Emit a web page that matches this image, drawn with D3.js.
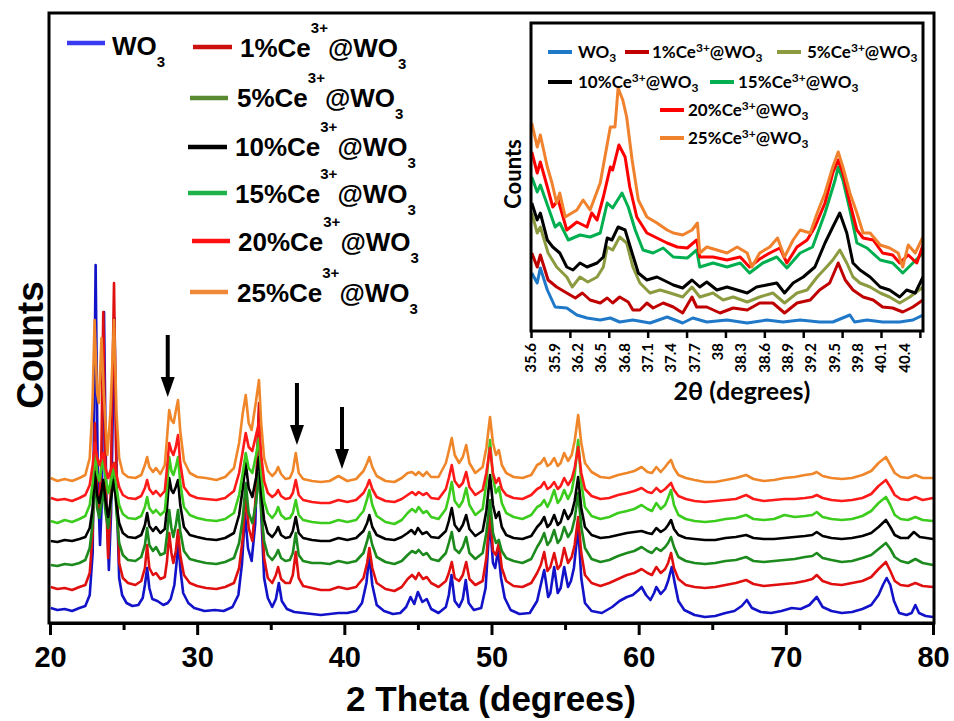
<!DOCTYPE html>
<html><head><meta charset="utf-8">
<script src="https://cdn.jsdelivr.net/npm/d3@7"></script>
<style>body{margin:0;background:#fff}svg{display:block}</style>
</head><body>
<svg id="c" width="954" height="721"></svg>
<script>
// ---------------- DATA ----------------
const seriesNames = ["WO3","1%Ce3+@WO3","5%Ce3+@WO3","10%Ce3+@WO3","15%Ce3+@WO3","20%Ce3+@WO3","25%Ce3+@WO3"];
const legendPct = ["", "1%", "5%", "10%", "15%", "20%", "25%"];
const mainColors = ["#1212c8","#e01010","#1c8a1c","#000000","#3ccc1e","#ff1a1a","#f0862a"];
const legendColors = ["#3a3af0","#cc1010","#5a8a30","#000000","#1db34a","#ff1010","#f0883a"];
const insetColors = ["#1f78c8","#c00000","#8c9a40","#000000","#00b050","#ff0000","#f0822e"];
const mainTicks = [20,30,40,50,60,70,80];
const mainMinorTicks = [25,35,45,55,65,75];
const insetTickMarks = [35.6,36.1,36.6,37.1,37.6,38.1,38.6,39.1,39.6,40.1,40.6];
const insetTickLabels = ["35.6","35.9","36.2","36.5","36.8","37.1","37.4","37.7","38","38.3","38.6","38.9","39.2","39.5","39.8","40.1","40.4"];
const arrowsAt = [[28.0,288,226],[36.78,240,178],[39.84,216,154]];

// main pattern: [2theta, counts (offset included)]
const mainWO3 = [[20.05,15],[20.5,13],[21,14],[21.5,12],[22,15],[22.4,17],[22.7,28],[22.9,70],[23.1,358],[23.25,140],[23.4,78],[23.52,120],[23.67,311],[23.82,130],[24.0,53],[24.15,110],[24.38,305],[24.55,120],[24.7,45],[24.9,28],[25.2,20],[25.6,17],[26.0,18],[26.3,25],[26.45,38],[26.6,55],[26.75,35],[26.95,24],[27.3,22],[27.7,18],[28.0,20],[28.2,24],[28.45,38],[28.6,60],[28.72,83],[28.85,55],[29.05,30],[29.4,20],[29.8,15],[30.5,12],[31.2,13],[31.8,12],[32.4,16],[32.8,28],[33.05,60],[33.25,110],[33.45,75],[33.7,62],[33.95,100],[34.1,170],[34.22,215],[34.35,110],[34.55,45],[34.8,25],[35.1,16],[35.35,24],[35.55,40],[35.75,22],[36.1,14],[36.6,11],[37.2,10],[37.8,9],[38.4,8],[39.0,9],[39.6,10],[40.2,10],[40.8,12],[41.2,20],[41.5,40],[41.7,68],[41.9,38],[42.2,18],[42.7,12],[43.3,9],[43.8,10],[44.2,16],[44.5,26],[44.75,19],[45.0,31],[45.3,21],[45.6,24],[45.9,14],[46.4,10],[46.9,16],[47.1,28],[47.28,48],[47.5,22],[47.8,16],[48.05,24],[48.25,43],[48.45,20],[48.8,13],[49.3,15],[49.6,35],[49.88,103],[50.1,60],[50.25,55],[50.45,73],[50.65,45],[50.9,25],[51.3,13],[51.9,9],[52.6,10],[53.1,22],[53.3,35],[53.58,53],[53.85,26],[54.0,30],[54.26,56],[54.5,30],[54.7,35],[54.94,56],[55.2,36],[55.4,42],[55.6,55],[55.89,96],[56.1,45],[56.35,20],[56.8,12],[57.5,10],[58.2,16],[58.7,22],[59.2,26],[59.6,28],[60.0,33],[60.2,36],[60.5,28],[60.8,23],[61.05,30],[61.2,36],[61.5,29],[61.8,34],[62.0,42],[62.25,56],[62.45,40],[62.7,22],[63.1,13],[63.8,8],[64.5,6],[65.2,7],[65.9,10],[66.5,12],[67.0,17],[67.35,23],[67.7,15],[68.3,11],[69.0,10],[69.7,12],[70.4,15],[71.0,14],[71.6,18],[72.1,26],[72.5,16],[73.1,12],[73.8,10],[74.5,11],[75.2,14],[75.8,18],[76.3,28],[76.6,38],[76.85,45],[77.1,38],[77.35,22],[77.7,10],[78.2,8],[78.55,10],[78.8,18],[79.05,10],[79.5,7],[80,6]];
const mainCe1 = [[20.05,36],[20.5,34],[21,35],[21.5,33],[22,36],[22.4,38],[22.7,50],[22.9,90],[23.05,200],[23.2,130],[23.35,115],[23.48,160],[23.62,311],[23.78,140],[23.95,65],[24.1,110],[24.35,340],[24.52,140],[24.7,60],[24.95,45],[25.3,40],[25.8,38],[26.2,42],[26.45,55],[26.6,78],[26.75,55],[27.0,48],[27.2,50],[27.5,44],[27.8,46],[27.95,62],[28.1,90],[28.25,70],[28.38,60],[28.55,72],[28.7,93],[28.85,68],[29.1,48],[29.5,40],[30.0,37],[30.6,35],[31.3,34],[31.9,36],[32.5,40],[32.85,55],[33.1,85],[33.3,130],[33.5,95],[33.75,82],[34.0,130],[34.2,220],[34.35,120],[34.55,65],[34.8,45],[35.1,40],[35.35,48],[35.5,56],[35.7,44],[36.0,40],[36.3,40],[36.5,48],[36.7,71],[36.9,45],[37.2,37],[37.8,35],[38.4,33],[39.0,33],[39.6,36],[40.2,34],[40.8,36],[41.3,45],[41.55,60],[41.7,75],[41.9,55],[42.2,40],[42.8,34],[43.4,32],[43.9,36],[44.3,44],[44.6,48],[44.85,44],[45.05,50],[45.35,44],[45.6,46],[45.9,40],[46.4,36],[46.9,42],[47.1,50],[47.3,61],[47.5,45],[47.8,42],[48.05,48],[48.28,61],[48.5,44],[48.9,38],[49.4,42],[49.65,65],[49.9,113],[50.1,72],[50.3,68],[50.5,80],[50.7,55],[51.0,42],[51.5,37],[52.1,36],[52.7,40],[53.1,50],[53.35,58],[53.58,71],[53.8,52],[54.0,56],[54.26,70],[54.5,54],[54.7,58],[54.94,75],[55.2,60],[55.45,66],[55.65,78],[55.89,106],[56.1,70],[56.35,48],[56.8,40],[57.4,37],[58.0,40],[58.6,44],[59.2,48],[59.7,50],[60.2,54],[60.6,50],[60.9,48],[61.2,56],[61.5,50],[61.8,54],[62.0,60],[62.2,70],[62.4,55],[62.7,44],[63.2,38],[63.8,36],[64.5,35],[65.2,36],[65.9,38],[66.6,40],[67.3,43],[67.8,39],[68.5,37],[69.2,38],[69.9,39],[70.6,40],[71.3,42],[71.8,44],[72.1,48],[72.5,42],[73.1,39],[73.8,38],[74.5,40],[75.2,42],[75.8,46],[76.3,54],[76.8,61],[77.1,52],[77.4,42],[77.8,38],[78.3,37],[78.8,40],[79.3,37],[80,36]];
const mainCe5 = [[20.05,58],[20.5,57],[21,59],[21.5,58],[22,60],[22.4,63],[22.7,75],[22.9,100],[23.05,150],[23.2,115],[23.35,105],[23.5,120],[23.62,135],[23.78,110],[23.95,95],[24.1,115],[24.35,160],[24.52,110],[24.7,80],[24.95,68],[25.3,63],[25.8,62],[26.2,66],[26.45,78],[26.6,95],[26.75,78],[27.0,72],[27.2,76],[27.5,68],[27.8,70],[27.95,88],[28.1,113],[28.25,95],[28.38,86],[28.55,98],[28.7,113],[28.85,92],[29.1,72],[29.5,64],[30.0,62],[30.6,60],[31.3,59],[31.9,61],[32.5,65],[32.85,80],[33.1,105],[33.3,140],[33.5,110],[33.75,100],[34.0,120],[34.2,150],[34.35,112],[34.55,82],[34.8,68],[35.1,63],[35.35,68],[35.5,73],[35.7,65],[36.0,62],[36.3,63],[36.5,70],[36.7,90],[36.9,68],[37.2,62],[37.8,60],[38.4,60],[39.0,59],[39.6,62],[40.2,60],[40.8,62],[41.3,70],[41.55,82],[41.7,91],[41.9,78],[42.2,66],[42.8,61],[43.4,59],[43.9,62],[44.3,68],[44.6,72],[44.85,70],[45.05,73],[45.35,68],[45.6,70],[45.9,64],[46.4,62],[46.9,70],[47.1,80],[47.3,91],[47.5,74],[47.8,70],[48.05,76],[48.28,86],[48.5,70],[48.9,64],[49.4,70],[49.65,90],[49.9,123],[50.1,90],[50.3,80],[50.5,83],[50.7,72],[51.0,65],[51.5,62],[52.1,60],[52.7,64],[53.1,76],[53.35,82],[53.58,90],[53.8,78],[54.0,82],[54.26,93],[54.5,80],[54.7,84],[54.94,96],[55.2,86],[55.45,92],[55.65,104],[55.89,130],[56.1,96],[56.35,75],[56.8,64],[57.4,61],[58.0,63],[58.6,67],[59.2,70],[59.7,72],[60.2,76],[60.6,72],[60.9,70],[61.2,75],[61.5,72],[61.8,76],[62.0,80],[62.2,86],[62.4,76],[62.7,66],[63.2,62],[63.8,60],[64.5,59],[65.2,60],[65.9,62],[66.6,63],[67.3,66],[67.8,62],[68.5,61],[69.2,62],[69.9,63],[70.6,64],[71.3,66],[71.8,67],[72.1,70],[72.5,65],[73.1,63],[73.8,61],[74.5,62],[75.2,65],[75.8,68],[76.3,74],[76.8,80],[77.1,74],[77.4,66],[77.8,62],[78.3,60],[78.8,64],[79.3,60],[80,58]];
const mainCe10 = [[20.05,82],[20.5,81],[21,83],[21.5,82],[22,84],[22.4,86],[22.7,95],[22.9,115],[23.05,151],[23.2,128],[23.35,120],[23.5,132],[23.62,143],[23.78,122],[23.95,106],[24.1,120],[24.35,143],[24.52,118],[24.7,100],[24.95,90],[25.3,86],[25.8,85],[26.2,88],[26.45,98],[26.6,110],[26.75,97],[27.0,92],[27.2,96],[27.5,90],[27.8,94],[27.95,115],[28.1,145],[28.25,133],[28.38,130],[28.55,136],[28.7,143],[28.85,118],[29.1,96],[29.5,88],[30.0,86],[30.6,84],[31.3,83],[31.9,85],[32.5,90],[32.85,108],[33.1,135],[33.3,160],[33.5,135],[33.75,126],[34.0,145],[34.2,166],[34.35,130],[34.55,103],[34.8,90],[35.1,86],[35.35,91],[35.5,96],[35.7,88],[36.0,85],[36.3,86],[36.5,92],[36.7,106],[36.9,90],[37.2,85],[37.8,83],[38.4,82],[39.0,82],[39.6,85],[40.2,83],[40.8,85],[41.3,92],[41.55,100],[41.7,108],[41.9,96],[42.2,88],[42.8,84],[43.4,83],[43.9,86],[44.3,90],[44.55,93],[44.8,89],[45.0,95],[45.3,89],[45.6,91],[45.9,86],[46.4,85],[46.9,92],[47.1,102],[47.3,115],[47.5,98],[47.8,92],[48.05,98],[48.28,108],[48.5,94],[48.9,87],[49.4,92],[49.65,112],[49.9,148],[50.1,118],[50.3,105],[50.5,111],[50.7,96],[51.0,88],[51.5,85],[52.1,84],[52.7,87],[53.1,96],[53.35,100],[53.58,106],[53.8,96],[54.0,99],[54.26,108],[54.5,98],[54.7,101],[54.94,113],[55.2,104],[55.45,110],[55.65,122],[55.89,146],[56.1,115],[56.35,96],[56.8,88],[57.4,85],[58.0,86],[58.6,88],[59.2,90],[59.7,91],[60.2,92],[60.6,90],[60.9,89],[61.2,95],[61.5,91],[61.8,94],[62.0,98],[62.2,103],[62.4,94],[62.7,88],[63.2,85],[63.8,84],[64.5,83],[65.2,83],[65.9,85],[66.6,86],[67.3,88],[67.8,85],[68.5,84],[69.2,84],[69.9,85],[70.6,86],[71.3,87],[71.8,88],[72.1,91],[72.5,87],[73.1,85],[73.8,84],[74.5,85],[75.2,87],[75.8,90],[76.3,96],[76.8,103],[77.1,96],[77.4,88],[77.8,85],[78.3,85],[78.7,91],[79.1,86],[80,84]];
const mainCe15 = [[20.05,102],[20.5,100],[21,103],[21.5,101],[22,104],[22.4,107],[22.7,118],[22.9,140],[23.05,173],[23.2,150],[23.35,142],[23.5,155],[23.62,165],[23.78,145],[23.95,130],[24.1,140],[24.35,156],[24.52,135],[24.7,118],[24.95,109],[25.3,105],[25.8,104],[26.2,107],[26.45,116],[26.6,126],[26.75,115],[27.0,110],[27.2,113],[27.5,108],[27.8,112],[27.95,135],[28.1,166],[28.25,152],[28.38,148],[28.55,156],[28.7,166],[28.85,140],[29.1,116],[29.5,108],[30.0,105],[30.6,103],[31.3,102],[31.9,104],[32.5,110],[32.85,128],[33.1,150],[33.3,170],[33.5,155],[33.75,150],[34.0,168],[34.2,185],[34.35,150],[34.55,122],[34.8,110],[35.1,105],[35.35,110],[35.5,116],[35.7,108],[36.0,104],[36.3,105],[36.5,110],[36.7,123],[36.9,108],[37.2,103],[37.8,101],[38.4,100],[39.0,100],[39.6,103],[40.2,101],[40.8,103],[41.3,112],[41.55,124],[41.7,133],[41.9,118],[42.2,107],[42.8,101],[43.4,99],[43.9,103],[44.3,110],[44.6,114],[44.85,111],[45.05,116],[45.35,110],[45.6,112],[45.9,106],[46.4,104],[46.9,114],[47.1,126],[47.3,141],[47.5,122],[47.8,116],[48.05,122],[48.28,135],[48.5,118],[48.9,108],[49.4,114],[49.65,140],[49.9,183],[50.1,145],[50.3,130],[50.5,136],[50.7,120],[51.0,110],[51.5,106],[52.1,104],[52.7,108],[53.1,116],[53.35,118],[53.58,123],[53.8,116],[54.0,122],[54.26,133],[54.5,120],[54.7,124],[54.94,133],[55.2,124],[55.45,132],[55.65,148],[55.89,183],[56.1,140],[56.35,116],[56.8,107],[57.4,104],[58.0,106],[58.6,110],[59.2,112],[59.7,114],[60.2,118],[60.6,114],[60.9,112],[61.2,120],[61.5,114],[61.8,118],[62.0,125],[62.2,133],[62.4,118],[62.7,108],[63.2,104],[63.8,102],[64.5,101],[65.2,102],[65.9,104],[66.6,105],[67.3,108],[67.8,104],[68.5,103],[69.2,104],[69.9,108],[70.6,106],[71.3,107],[71.8,108],[72.1,111],[72.5,106],[73.1,104],[73.8,103],[74.5,104],[75.2,107],[75.8,112],[76.3,120],[76.8,126],[77.1,118],[77.4,108],[77.8,104],[78.3,103],[78.8,106],[79.3,103],[80,102]];
const mainCe20 = [[20.05,125],[20.5,123],[21,124],[21.5,122],[22,125],[22.4,128],[22.7,138],[22.9,158],[23.05,180],[23.2,165],[23.35,158],[23.5,165],[23.62,170],[23.78,155],[23.95,145],[24.1,152],[24.35,160],[24.52,148],[24.7,136],[24.95,128],[25.3,125],[25.8,124],[26.2,127],[26.45,135],[26.6,143],[26.75,134],[27.0,129],[27.2,132],[27.5,127],[27.8,132],[27.95,155],[28.1,180],[28.25,172],[28.38,168],[28.55,176],[28.7,188],[28.85,160],[29.1,136],[29.5,128],[30.0,125],[30.6,124],[31.3,123],[31.9,125],[32.5,132],[32.85,150],[33.1,172],[33.3,190],[33.5,176],[33.75,172],[34.0,188],[34.2,200],[34.35,168],[34.55,142],[34.8,130],[35.1,126],[35.35,129],[35.5,133],[35.7,127],[36.0,124],[36.3,125],[36.5,130],[36.7,143],[36.9,128],[37.2,123],[37.8,121],[38.4,120],[39.0,120],[39.6,123],[40.2,121],[40.8,123],[41.3,130],[41.55,137],[41.7,143],[41.9,134],[42.2,126],[42.8,122],[43.4,121],[43.9,124],[44.3,128],[44.6,131],[44.85,128],[45.05,131],[45.35,128],[45.6,130],[45.9,125],[46.4,124],[46.9,134],[47.1,145],[47.3,158],[47.5,142],[47.8,136],[48.05,140],[48.28,151],[48.5,136],[48.9,128],[49.4,133],[49.65,150],[49.9,175],[50.1,150],[50.3,140],[50.5,145],[50.7,134],[51.0,128],[51.5,125],[52.1,124],[52.7,128],[53.1,134],[53.35,136],[53.58,141],[53.8,134],[54.0,136],[54.26,141],[54.5,134],[54.7,137],[54.94,145],[55.2,138],[55.45,144],[55.65,155],[55.89,176],[56.1,150],[56.35,134],[56.8,127],[57.4,124],[58.0,125],[58.6,128],[59.2,130],[59.7,132],[60.2,135],[60.6,131],[60.9,130],[61.2,135],[61.5,131],[61.8,134],[62.0,137],[62.2,140],[62.4,133],[62.7,127],[63.2,124],[63.8,122],[64.5,121],[65.2,122],[65.9,123],[66.6,124],[67.3,128],[67.8,124],[68.5,122],[69.2,123],[69.9,124],[70.6,124],[71.3,125],[71.8,126],[72.1,128],[72.5,125],[73.1,123],[73.8,122],[74.5,123],[75.2,125],[75.8,129],[76.3,137],[76.8,143],[77.1,136],[77.4,128],[77.8,124],[78.3,123],[78.8,126],[79.3,123],[80,125]];
const mainCe25 = [[20.05,145],[20.5,142],[21,144],[21.5,142],[22,145],[22.4,148],[22.7,165],[22.88,215],[23.03,303],[23.2,230],[23.32,220],[23.5,285],[23.65,230],[23.9,168],[24.1,210],[24.35,303],[24.52,210],[24.7,165],[24.95,150],[25.3,146],[25.8,145],[26.2,148],[26.45,158],[26.6,166],[26.75,156],[27.0,151],[27.2,155],[27.5,149],[27.8,158],[27.95,185],[28.1,213],[28.25,203],[28.4,200],[28.55,212],[28.7,223],[28.85,192],[29.1,162],[29.5,150],[30.0,146],[30.6,145],[31.3,143],[31.9,146],[32.5,155],[32.85,180],[33.1,210],[33.3,228],[33.5,200],[33.7,193],[34.0,222],[34.2,243],[34.35,200],[34.55,165],[34.8,152],[35.1,147],[35.35,151],[35.5,156],[35.7,149],[36.0,144],[36.3,145],[36.5,152],[36.7,170],[36.9,150],[37.2,144],[37.8,142],[38.4,141],[39.0,142],[39.6,147],[40.2,142],[40.8,144],[41.3,152],[41.55,160],[41.7,166],[41.9,156],[42.2,147],[42.8,142],[43.4,141],[43.9,145],[44.3,150],[44.6,151],[44.85,148],[45.05,151],[45.35,147],[45.6,151],[45.9,146],[46.4,146],[46.9,160],[47.1,172],[47.3,185],[47.5,168],[47.8,160],[48.05,166],[48.28,178],[48.5,160],[48.9,150],[49.4,156],[49.65,175],[49.9,206],[50.1,180],[50.3,168],[50.5,173],[50.7,158],[51.0,150],[51.5,146],[52.1,145],[52.7,148],[53.1,158],[53.35,160],[53.58,165],[53.8,157],[54.0,159],[54.26,165],[54.5,157],[54.7,160],[54.94,170],[55.2,162],[55.45,168],[55.65,182],[55.89,208],[56.1,180],[56.35,160],[56.8,151],[57.4,146],[58.0,145],[58.6,148],[59.2,150],[59.7,152],[60.2,156],[60.6,151],[60.9,150],[61.2,156],[61.5,151],[61.8,156],[62.0,160],[62.2,163],[62.4,155],[62.7,148],[63.2,145],[63.8,143],[64.5,141],[65.2,141],[65.9,143],[66.6,145],[67.3,148],[67.8,144],[68.5,142],[69.2,143],[69.9,145],[70.6,146],[71.3,148],[71.8,149],[72.1,151],[72.5,147],[73.1,145],[73.8,144],[74.5,145],[75.2,148],[75.8,152],[76.3,160],[76.8,166],[77.1,158],[77.4,150],[77.8,146],[78.3,145],[78.8,148],[79.3,145],[80,145]];

// inset (35.6 - 40.64 deg)
const insWO3 = [[35.61,58],[35.68,48],[35.72,63],[35.81,41],[35.91,24],[36.06,23],[36.19,16],[36.32,13],[36.49,11],[36.62,13],[36.74,9],[36.91,11],[37.13,8],[37.35,14],[37.55,8],[37.68,13],[37.86,9],[38.12,11],[38.38,8],[38.63,11],[38.84,9],[39.06,11],[39.31,9],[39.48,9],[39.7,16],[39.76,9],[39.92,11],[40.12,9],[40.34,9],[40.51,11],[40.64,16]];
const insCe1 = [[35.61,78],[35.68,64],[35.72,76],[35.82,51],[35.93,44],[36.06,38],[36.17,33],[36.26,38],[36.36,31],[36.49,28],[36.58,33],[36.65,28],[36.74,34],[36.85,29],[36.91,21],[37.0,21],[37.09,28],[37.17,23],[37.3,28],[37.43,24],[37.55,18],[37.67,34],[37.73,24],[37.86,24],[38.03,18],[38.2,23],[38.38,21],[38.54,28],[38.71,28],[38.86,18],[39.02,28],[39.19,31],[39.31,41],[39.44,48],[39.55,68],[39.64,51],[39.74,41],[39.87,34],[40.0,31],[40.12,24],[40.25,23],[40.38,19],[40.51,24],[40.64,31]];
const insCe5 = [[35.61,118],[35.68,98],[35.72,104],[35.82,78],[35.93,64],[36.06,54],[36.13,44],[36.23,54],[36.33,49],[36.45,54],[36.53,64],[36.58,84],[36.65,81],[36.74,94],[36.83,88],[36.91,64],[37.0,48],[37.13,38],[37.26,41],[37.39,38],[37.55,34],[37.67,44],[37.77,34],[37.94,38],[38.07,31],[38.2,34],[38.38,29],[38.54,34],[38.71,38],[38.86,28],[39.02,38],[39.15,41],[39.28,54],[39.4,64],[39.48,71],[39.57,81],[39.66,68],[39.74,54],[39.83,48],[39.96,44],[40.09,38],[40.21,34],[40.34,28],[40.47,34],[40.64,44]];
const insCe10 = [[35.61,128],[35.68,111],[35.72,118],[35.81,91],[35.88,84],[35.97,78],[36.06,64],[36.14,61],[36.23,68],[36.32,64],[36.45,68],[36.53,74],[36.58,93],[36.64,91],[36.72,104],[36.81,101],[36.9,78],[36.98,58],[37.09,51],[37.22,54],[37.3,51],[37.43,46],[37.55,43],[37.67,51],[37.77,44],[37.86,49],[37.99,41],[38.12,44],[38.25,41],[38.38,38],[38.5,44],[38.63,46],[38.76,48],[38.86,38],[38.97,48],[39.1,54],[39.25,64],[39.38,88],[39.48,104],[39.57,118],[39.66,98],[39.74,68],[39.83,61],[39.96,54],[40.09,44],[40.21,41],[40.34,34],[40.43,41],[40.54,38],[40.64,54]];
const insCe15 = [[35.61,154],[35.68,139],[35.72,146],[35.82,124],[35.91,104],[35.97,108],[36.08,91],[36.23,96],[36.36,94],[36.49,98],[36.58,128],[36.65,123],[36.77,138],[36.85,124],[36.94,101],[37.04,81],[37.17,78],[37.3,83],[37.43,74],[37.61,73],[37.73,81],[37.77,64],[37.94,68],[38.12,64],[38.29,68],[38.41,58],[38.58,68],[38.76,74],[38.89,63],[39.06,78],[39.22,84],[39.38,118],[39.51,151],[39.55,164],[39.61,151],[39.7,121],[39.79,88],[39.92,83],[40.09,71],[40.25,68],[40.38,58],[40.51,68],[40.64,78]];
const insCe20 = [[35.61,179],[35.68,158],[35.72,169],[35.81,144],[35.88,124],[35.95,131],[36.06,101],[36.19,109],[36.32,104],[36.38,118],[36.45,111],[36.53,134],[36.62,164],[36.65,161],[36.73,186],[36.81,174],[36.87,144],[36.96,114],[37.09,98],[37.22,93],[37.35,88],[37.48,84],[37.61,83],[37.73,91],[37.77,74],[37.94,74],[38.12,71],[38.29,74],[38.41,64],[38.54,72],[38.67,78],[38.8,83],[38.89,68],[39.02,84],[39.15,91],[39.25,104],[39.38,128],[39.48,158],[39.55,171],[39.61,158],[39.7,128],[39.79,101],[39.87,93],[40.0,91],[40.12,78],[40.25,76],[40.34,68],[40.45,76],[40.56,68],[40.64,86]];
const insCe25 = [[35.61,208],[35.68,184],[35.72,196],[35.81,164],[35.87,148],[35.93,128],[35.97,138],[36.04,114],[36.19,121],[36.27,131],[36.36,121],[36.49,148],[36.62,204],[36.68,204],[36.72,243],[36.78,231],[36.83,214],[36.9,171],[36.98,131],[37.09,114],[37.22,108],[37.35,101],[37.43,98],[37.55,96],[37.67,101],[37.74,108],[37.77,78],[37.86,84],[37.99,81],[38.12,78],[38.25,84],[38.38,78],[38.44,64],[38.54,78],[38.67,84],[38.77,93],[38.86,74],[38.97,91],[39.06,101],[39.19,98],[39.28,118],[39.38,138],[39.48,164],[39.55,179],[39.61,164],[39.7,138],[39.79,118],[39.87,98],[39.96,98],[40.09,86],[40.21,83],[40.32,78],[40.38,64],[40.45,86],[40.54,78],[40.64,94]];

const mainSeries = [mainWO3, mainCe1, mainCe5, mainCe10, mainCe15, mainCe20, mainCe25];
const insetSeries = [insWO3, insCe1, insCe5, insCe10, insCe15, insCe20, insCe25];

// ---------------- DRAW ----------------
const svg = d3.select("#c");
const F = "'Liberation Sans', Arial, sans-serif";
const FI = "Lato, 'Open Sans', sans-serif";

const x = d3.scaleLinear().domain([20,80]).range([50,933]);
const y = d3.scaleLinear().domain([0,610]).range([623,13]);

svg.append("clipPath").attr("id","mclip").append("rect").attr("x",50).attr("y",14).attr("width",884).attr("height",608);

const line = d3.line().x(d=>x(d[0])).y(d=>y(d[1]));
const gm = svg.append("g").attr("clip-path","url(#mclip)");
mainSeries.forEach((s,i)=>{
  gm.append("path").datum(s).attr("d",line).attr("fill","none")
    .attr("stroke",mainColors[i]).attr("stroke-width",2.6).attr("stroke-linejoin","round");
});

// frame
svg.append("rect").attr("x",49).attr("y",13).attr("width",885).attr("height",610)
  .attr("fill","none").attr("stroke","#000").attr("stroke-width",3);

// x axis
const ax = svg.append("g").attr("transform","translate(0,623)")
  .call(d3.axisBottom(x).tickValues(mainTicks).tickSize(12).tickPadding(11).tickFormat(d3.format("d")));
ax.select(".domain").attr("stroke-width",3);
ax.selectAll(".tick line").attr("stroke-width",3);
ax.selectAll(".tick text").attr("font-family",F).attr("font-weight","bold").attr("font-size",29).attr("fill","#000");
const axm = svg.append("g").attr("transform","translate(0,623)")
  .call(d3.axisBottom(x).tickValues(mainMinorTicks).tickSize(7).tickFormat(""));
axm.select(".domain").remove();
axm.selectAll(".tick line").attr("stroke-width",3);

svg.append("text").attr("x",491).attr("y",711).attr("text-anchor","middle")
  .attr("font-family",F).attr("font-weight","bold").attr("font-size",35).text("2 Theta (degrees)");
svg.append("text").attr("transform","translate(43,345) rotate(-90)").attr("text-anchor","middle")
  .attr("font-family",F).attr("font-weight","bold").attr("font-size",37).text("Counts");

// arrows
arrowsAt.forEach(a=>{
  const ax0 = x(a[0]), yt = y(a[1]), yb = y(a[2]);
  svg.append("line").attr("x1",ax0).attr("x2",ax0).attr("y1",yt).attr("y2",yb-14)
    .attr("stroke","#000").attr("stroke-width",4);
  svg.append("path").attr("d",`M${ax0-7},${yb-20} L${ax0+7},${yb-20} L${ax0},${yb} Z`).attr("fill","#000");
});

// main legend
const legRows = [
  {lx1:67,lx2:105,ly:43,tx:112,ty:55},
  {lx1:193,lx2:232,ly:47,tx:240,ty:57},
  {lx1:190,lx2:228,ly:98,tx:237,ty:107},
  {lx1:188,lx2:227,ly:147,tx:235,ty:156},
  {lx1:188,lx2:227,ly:193,tx:235,ty:203},
  {lx1:192,lx2:230,ly:241,tx:238,ty:251},
  {lx1:190,lx2:228,ly:292,tx:237,ty:302}
];
legRows.forEach((r,i)=>{
  svg.append("line").attr("x1",r.lx1).attr("x2",r.lx2).attr("y1",r.ly).attr("y2",r.ly)
    .attr("stroke",legendColors[i]).attr("stroke-width",4.5);
  const t = svg.append("text").attr("x",r.tx).attr("y",r.ty).attr("font-family",F)
    .attr("font-weight","bold").attr("font-size",26).attr("fill","#000");
  if(i===0){
    t.append("tspan").text("WO");
    t.append("tspan").attr("dy",12).attr("font-size",15).text("3");
  } else {
    t.append("tspan").text(legendPct[i]+"Ce");
    t.append("tspan").attr("dy",-24).attr("font-size",15).text("3+");
    t.append("tspan").attr("dy",24).text("@WO");
    t.append("tspan").attr("dy",12).attr("font-size",15).text("3");
  }
});

// ---------------- INSET ----------------
const xi = d3.scaleLinear().domain([35.6,40.64]).range([531,923]);
const yi = d3.scaleLinear().domain([0,308]).range([331,23]);
svg.append("rect").attr("x",531).attr("y",23).attr("width",392).attr("height",308).attr("fill","#fff");
svg.append("clipPath").attr("id","iclip").append("rect").attr("x",531).attr("y",23).attr("width",392).attr("height",308);
const lineI = d3.line().x(d=>xi(d[0])).y(d=>yi(d[1]));
const gi = svg.append("g").attr("clip-path","url(#iclip)");
insetSeries.forEach((s,i)=>{
  gi.append("path").datum(s).attr("d",lineI).attr("fill","none")
    .attr("stroke",insetColors[i]).attr("stroke-width",3).attr("stroke-linejoin","round");
});
svg.append("rect").attr("x",531).attr("y",23).attr("width",392).attr("height",308)
  .attr("fill","none").attr("stroke","#000").attr("stroke-width",3);
const axi = svg.append("g").attr("transform","translate(0,331)")
  .call(d3.axisBottom(xi).tickValues(insetTickMarks).tickSize(7).tickFormat(""));
axi.select(".domain").remove();
axi.selectAll(".tick line").attr("stroke-width",2.5);
svg.append("g").selectAll("text").data(insetTickLabels).join("text")
  .attr("transform",d=>`translate(${xi(+d)},343) rotate(-90)`)
  .attr("text-anchor","end").attr("dy","0.35em")
  .attr("font-family",FI).attr("font-weight","bold").attr("font-size",15).text(d=>d);
svg.append("text").attr("x",742).attr("y",400).attr("text-anchor","middle")
  .attr("font-family",FI).attr("font-weight","bold").attr("font-size",25).text("2θ (degrees)");
svg.append("text").attr("transform","translate(521,174) rotate(-90)").attr("text-anchor","middle")
  .attr("font-family",FI).attr("font-weight","bold").attr("font-size",22).text("Counts");

const insLeg = [
  {lx:548,ly:52,tx:578},{lx:625,ly:52,tx:652},{lx:777,ly:52,tx:807},
  {lx:548,ly:82,tx:578},{lx:710,ly:82,tx:738},
  {lx:660,ly:110,tx:688},{lx:660,ly:138,tx:688}
];
insLeg.forEach((r,i)=>{
  svg.append("line").attr("x1",r.lx).attr("x2",r.lx+24).attr("y1",r.ly).attr("y2",r.ly)
    .attr("stroke",insetColors[i]).attr("stroke-width",4);
  const t = svg.append("text").attr("x",r.tx).attr("y",r.ly+6).attr("font-family",FI)
    .attr("font-weight","bold").attr("font-size",17).attr("fill","#000");
  if(i===0){
    t.append("tspan").text("WO");
    t.append("tspan").attr("dy",4).attr("font-size",12).text("3");
  } else {
    t.append("tspan").text(legendPct[i]+"Ce");
    t.append("tspan").attr("dy",-6).attr("font-size",12).text("3+");
    t.append("tspan").attr("dy",6).text("@WO");
    t.append("tspan").attr("dy",4).attr("font-size",12).text("3");
  }
});
</script>
</body></html>
